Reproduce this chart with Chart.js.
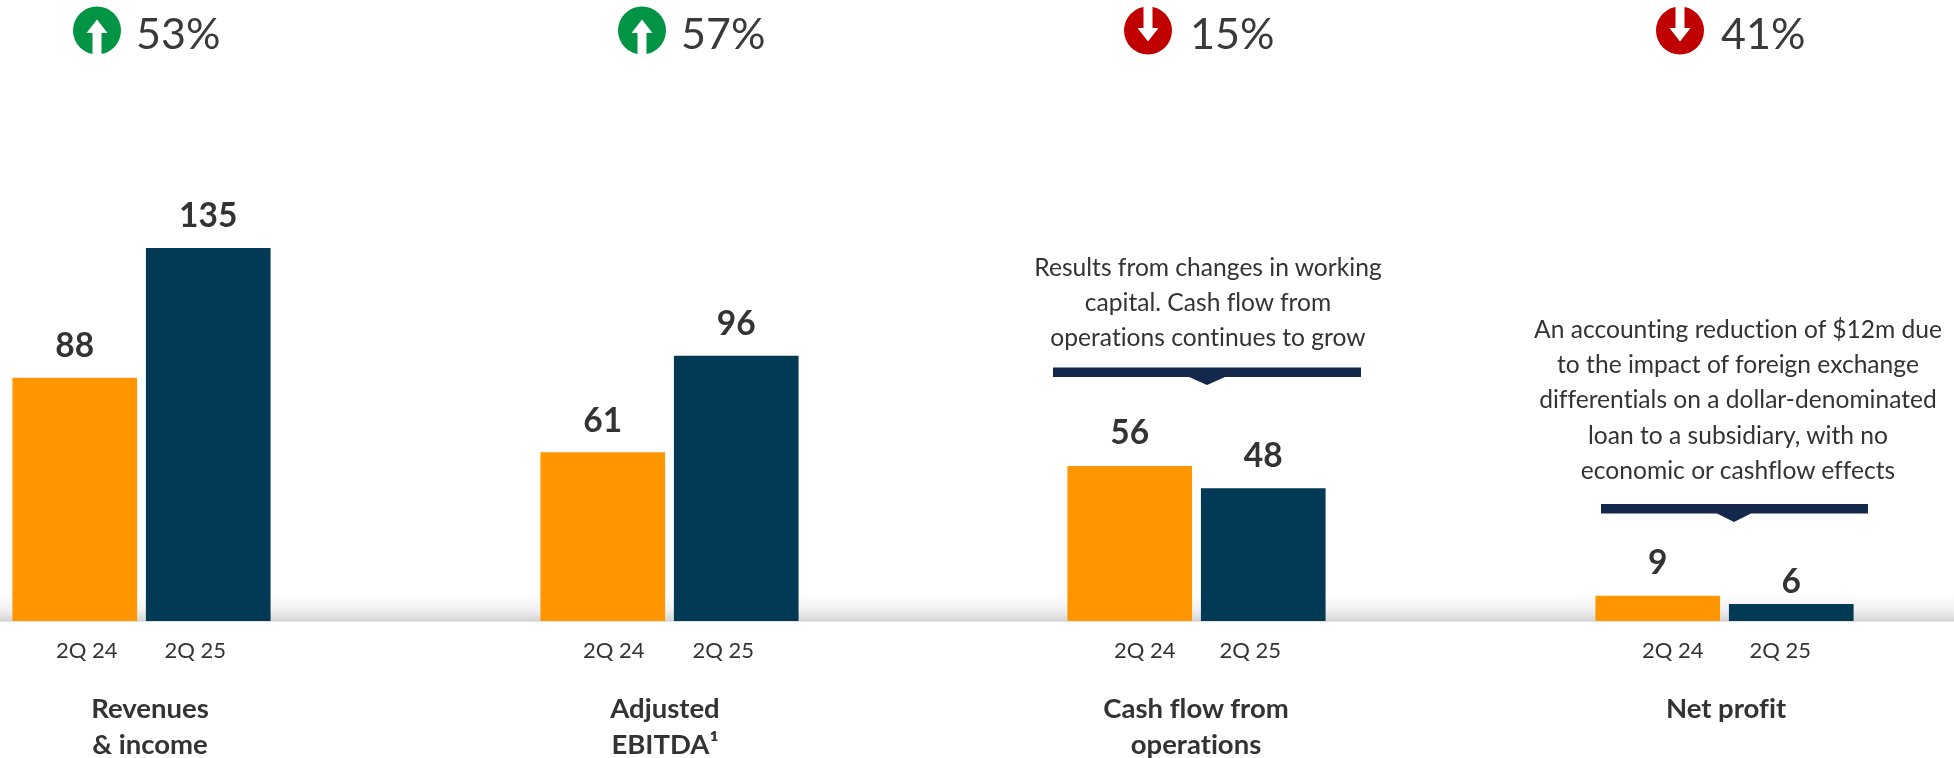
<!DOCTYPE html>
<html>
<head>
<meta charset="utf-8">
<title>2Q 25 results</title>
<script src="https://cdn.jsdelivr.net/npm/chart.js@4"></script>
<style>
  html, body { margin: 0; padding: 0; background: #fff; }
  #page { position: relative; width: 1954px; height: 758px; overflow: hidden; font-family: Lato, sans-serif; color: #333; font-variant-ligatures: none; }
  #band { position: absolute; left: 0; top: 594px; width: 1954px; height: 28px;
          background: linear-gradient(to bottom, #fff 0%, #f1f1f1 55%, #d6d6d6 96%, #efefef 100%); }
  canvas { position: absolute; top: 0; }
  .pct { position: absolute; top: 8px; font-size: 43px; line-height: 50px; color: #3a3a3a; }
  .note { position: absolute; text-align: center; font-size: 24.6px; line-height: 35.2px; white-space: nowrap; transform: translateX(-50%); }
  .title { position: absolute; top: 690px; text-align: center; font-weight: 700; font-size: 27.5px; line-height: 35.5px; white-space: nowrap; transform: translateX(-50%); }
  svg { position: absolute; left: 0; top: 0; }
</style>
</head>
<body>
<div id="page">
  <div id="band"></div>
  <canvas id="c1" width="267" height="758" style="left:8px"></canvas>
  <canvas id="c2" width="267" height="758" style="left:536px"></canvas>
  <canvas id="c3" width="267" height="758" style="left:1063px"></canvas>
  <canvas id="c4" width="267" height="758" style="left:1591px"></canvas>

  <svg width="1954" height="758">
    <defs>
      <g id="up">
        <circle r="24" fill="#009444"/>
        <path d="M0 -11 L10.5 2.5 L4.5 2.5 L4.5 25 L-4.5 25 L-4.5 2.5 L-10.5 2.5 Z" fill="#fff"/>
      </g>
      <g id="down">
        <circle r="24" fill="#c00000"/>
        <path d="M0 11 L10.5 -2.5 L4.5 -2.5 L4.5 -25 L-4.5 -25 L-4.5 -2.5 L-10.5 -2.5 Z" fill="#fff"/>
      </g>
    </defs>
    <use href="#up" x="97" y="30.5"/>
    <use href="#up" x="642" y="30.5"/>
    <use href="#down" x="1148" y="30.5"/>
    <use href="#down" x="1680" y="30.5"/>
    <!-- brackets above the two notes -->
    <path d="M1053 367.5 H1361 V377 H1225 L1207 385 L1189 377 H1053 Z" fill="#14284b"/>
    <path d="M1601 504 H1868 V513.5 H1751 L1734 522 L1717 513.5 H1601 Z" fill="#14284b"/>
  </svg>

  <div class="pct" style="left:136px">53%</div>
  <div class="pct" style="left:681px">57%</div>
  <div class="pct" style="left:1190px">15%</div>
  <div class="pct" style="left:1721px">41%</div>

  <div class="note" style="left:1208px;top:249px">Results from changes in working<br>capital. Cash flow from<br>operations continues to grow</div>
  <div class="note" style="left:1738px;top:311px">An accounting reduction of $12m due<br>to the impact of foreign exchange<br>differentials on a dollar-denominated<br>loan to a subsidiary, with no<br>economic or cashflow effects</div>

  <div class="title" style="left:150px">Revenues<br>&amp; income</div>
  <div class="title" style="left:665px">Adjusted<br>EBITDA¹</div>
  <div class="title" style="left:1196px">Cash flow from<br>operations</div>
  <div class="title" style="left:1726px">Net profit</div>
</div>

<script>
// Dados
const periods = ['2Q 24', '2Q 25'];
const revenues = [88, 135];
const ebitda = [61, 96];
const cashFlow = [56, 48];
const netProfit = [9, 6];
const barColors = ['#ff9600', '#023a55'];

// valores e periodos nao ficam no eixo padrao porque os rotulos estao deslocados das barras
const labelsPlugin = {
    id: 'labels',
    afterDatasetsDraw(chart, args, opts) {
        const c = chart.ctx;
        const bars = chart.getDatasetMeta(0).data;
        const base = chart.scales.y.getPixelForValue(0);
        c.save();
        c.fillStyle = '#333';
        c.textAlign = 'center';
        c.textBaseline = 'alphabetic';
        bars.forEach(function(bar, i) {
            c.font = '700 33.5px Lato';
            c.fillText(chart.data.datasets[0].data[i], bar.x, bar.y - opts.gap[i]);
            c.font = '400 22px Lato';
            c.fillText(chart.data.labels[i], bar.x + opts.shift[i], base + 37);
        });
        c.restore();
    }
};

function makeChart(id, values, shift, gap) {
    return new Chart(document.getElementById(id), {
        type: 'bar',
        data: {
            labels: periods,
            datasets: [{
                data: values,
                backgroundColor: barColors,
                barThickness: 124
            }]
        },
        options: {
            responsive: false,
            animation: false,
            layout: { padding: { bottom: 137 } },
            scales: {
                x: { display: false },
                y: { display: false, min: 0, max: 225 }
            },
            plugins: {
                legend: { display: false },
                tooltip: { enabled: false },
                labels: { shift: shift, gap: gap }
            }
        },
        plugins: [labelsPlugin]
    });
}

makeChart('c1', revenues, [12, -13], [21, 21]);
makeChart('c2', ebitda, [11, -13], [21, 21]);
makeChart('c3', cashFlow, [15, -13], [22, 22]);
makeChart('c4', netProfit, [15, -11], [22, 11]);
</script>
</body>
</html>
